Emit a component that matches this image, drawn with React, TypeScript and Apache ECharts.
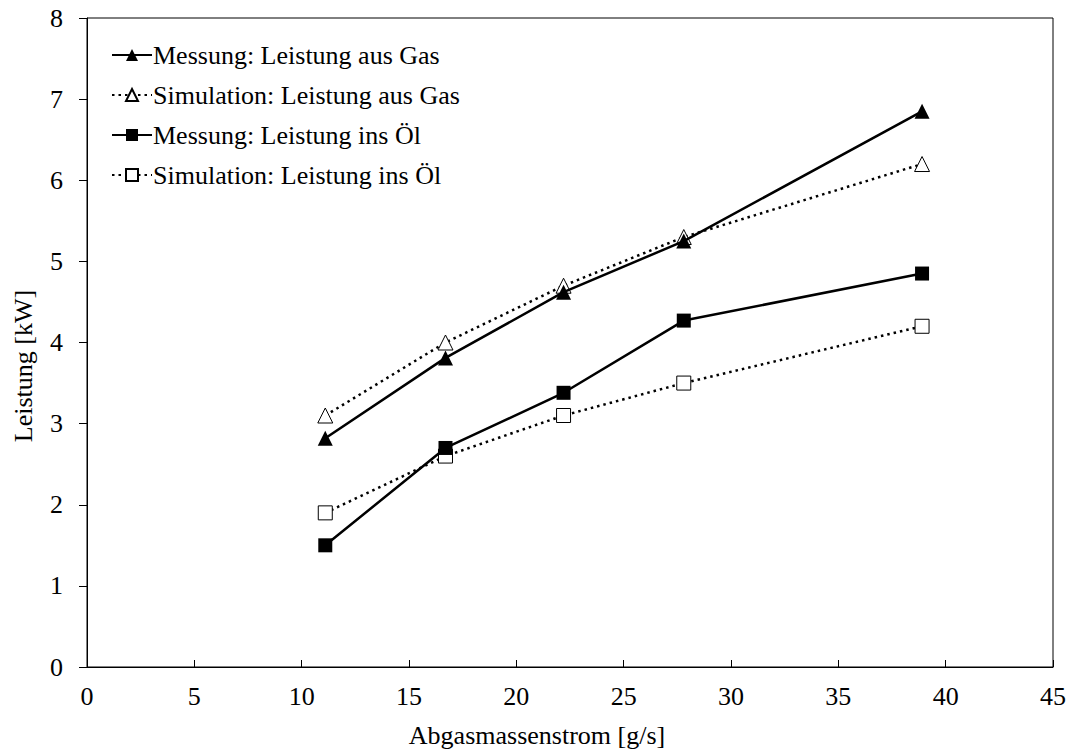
import React, { useEffect, useRef } from "react";
import * as echarts from "echarts";

const xValues = [11.1, 16.7, 22.2, 27.8, 38.9];
const messGas = [2.82, 3.81, 4.62, 5.25, 6.85];
const simGas = [3.1, 4.0, 4.7, 5.3, 6.2];
const messOel = [1.5, 2.7, 3.38, 4.27, 4.85];
const simOel = [1.9, 2.6, 3.1, 3.5, 4.2];
const seriesNames = [
  "Messung: Leistung aus Gas",
  "Simulation: Leistung aus Gas",
  "Messung: Leistung ins Öl",
  "Simulation: Leistung ins Öl",
];
const xTitle = "Abgasmassenstrom [g/s]";
const yTitle = "Leistung [kW]";

const font = "Liberation Serif";
const fs = 26;

export default function App() {
  const ref = useRef<HTMLDivElement>(null);
  useEffect(() => {
    if (!ref.current) return;
    const chart = echarts.init(ref.current, null, { renderer: "svg" });
    const pts = (ys: number[]) => xValues.map((x, i) => [x, ys[i]]);
    const mk = (
      name: string,
      ys: number[],
      symbol: string,
      filled: boolean,
      dotted: boolean
    ) => ({
      name,
      type: "line",
      data: pts(ys),
      symbol,
      symbolSize: symbol === "triangle" ? 15 : 14,
      showSymbol: true,
      z: dotted ? 2 : 3,
      lineStyle: {
        color: "#000",
        width: 2.5,
        type: dotted ? [2.5, 4] : "solid",
      },
      itemStyle: {
        color: filled ? "#000" : "#fff",
        borderColor: "#000",
        borderWidth: filled ? 0 : 1,
      },
    });
    chart.setOption({
      animation: false,
      backgroundColor: "#fff",
      textStyle: { fontFamily: font },
      grid: {
        left: 87,
        top: 18,
        right: 16,
        bottom: 84,
        show: true,
        borderColor: "#000",
        borderWidth: 1,
        backgroundColor: "transparent",
      },
      legend: {
        orient: "vertical",
        left: 106,
        top: 37,
        itemGap: 14,
        itemWidth: 40,
        itemHeight: 15,
        textStyle: { fontFamily: font, fontSize: fs, color: "#000", padding: [0, 0, 0, -4] },
        data: seriesNames,
      },
      graphic: [
        {
          type: "text",
          x: 537,
          y: 735,
          style: {
            text: xTitle,
            fontFamily: font,
            fontSize: fs,
            fill: "#000",
            align: "center",
            verticalAlign: "middle",
          },
        },
        {
          type: "text",
          x: 23,
          y: 366,
          rotation: Math.PI / 2,
          style: {
            text: yTitle,
            fontFamily: font,
            fontSize: fs,
            fill: "#000",
            align: "center",
            verticalAlign: "middle",
          },
        },
      ],
      xAxis: {
        type: "value",
        min: 0,
        max: 45,
        interval: 5,
        axisLine: { lineStyle: { color: "#000", width: 1 } },
        axisTick: { inside: true, length: 7, lineStyle: { color: "#000" } },
        axisLabel: { fontFamily: font, fontSize: fs, color: "#000", margin: 16 },
        splitLine: { show: false },
      },
      yAxis: {
        type: "value",
        min: 0,
        max: 8,
        interval: 1,
        axisLine: { show: true, lineStyle: { color: "#000", width: 1 } },
        axisTick: { show: true, inside: false, length: 8, lineStyle: { color: "#000" } },
        axisLabel: { fontFamily: font, fontSize: fs, color: "#000", margin: 24 },
        splitLine: { show: false },
      },
      series: [
        mk(seriesNames[0], messGas, "triangle", true, false),
        mk(seriesNames[1], simGas, "triangle", false, true),
        mk(seriesNames[2], messOel, "rect", true, false),
        mk(seriesNames[3], simOel, "rect", false, true),
      ],
    });
    return () => chart.dispose();
  }, []);
  return (
    <div
      ref={ref}
      style={{ position: "fixed", left: 0, top: 0, width: 1069, height: 751 }}
    />
  );
}
